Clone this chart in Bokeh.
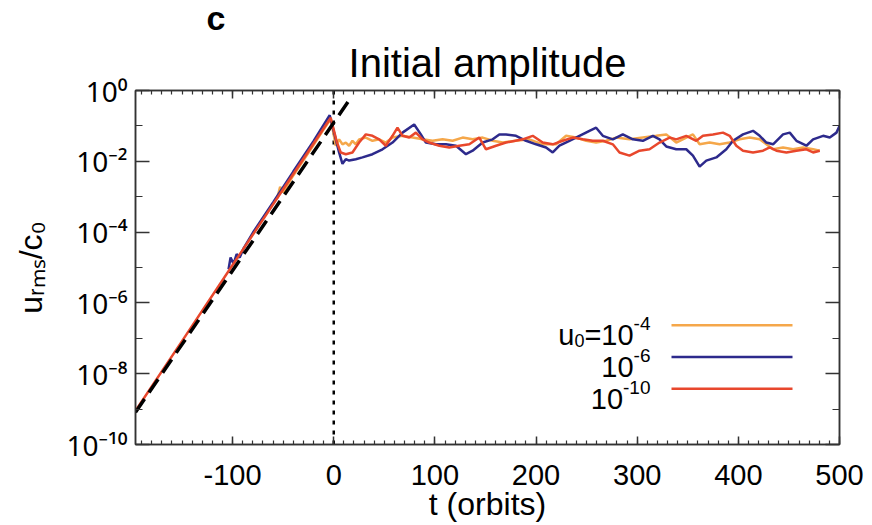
from bokeh.plotting import figure
from bokeh.models import FixedTicker, LinearAxis, LogAxis, Label, Range1d, Title
from bokeh.embed import file_html
from bokeh.resources import INLINE

# ---------------- data (t in orbits, log10 of u_rms/c0) ----------------
t_orange = [-56, -53, -50, -46, -40, -30, -20, -10, -3,
            2, 5.3, 8.6, 11.9, 15.2, 18.5, 21.8, 25.1, 31.7, 38.3, 44.9, 51.5, 58.1,
            68, 78, 87.8, 97.7, 107.6, 117.5, 127.4, 137.3, 147.2, 157.1, 167, 180.2,
            193.4, 206.6, 219.8, 229.7, 239.6, 249.5, 259.4, 269.3, 279.2, 292.4, 305.6,
            318.8, 328.7, 338.6, 348.5, 355.1, 361.7, 371.6, 381.5, 391.4, 401.3, 411.2,
            421.1, 427.7, 434.3, 444.2, 454.1, 464, 473.9, 480.5]
log_orange = [-3.05, -2.72, -2.88, -2.68, -2.40, -1.97, -1.54, -1.10, -0.80,
              -1.56, -1.38, -1.52, -1.47, -1.56, -1.42, -1.52, -1.38, -1.33, -1.42, -1.38, -1.47, -1.33,
              -1.28, -1.33, -1.38, -1.42, -1.38, -1.42, -1.33, -1.38, -1.33, -1.42, -1.47, -1.42,
              -1.38, -1.52, -1.52, -1.28, -1.33, -1.42, -1.47, -1.42, -1.33, -1.38, -1.33,
              -1.28, -1.24, -1.47, -1.33, -1.24, -1.52, -1.47, -1.52, -1.47, -1.38, -1.33,
              -1.38, -1.52, -1.66, -1.61, -1.66, -1.61, -1.66, -1.70]

t_blue = [-104, -102, -99, -96, -93, -89, -80, -60, -40, -20, -4,
          2, 5.3, 8.6, 11.9, 15.2, 21.8, 28.4, 38.3, 48.2, 58.1, 68, 79.5, 86.1, 91.1,
          101, 110.9, 120.8, 130.7, 137.3, 147.2, 157.1, 163.7, 170.3, 180.2, 190.1, 200,
          209.9, 216.5, 223.1, 233, 242.9, 252.8, 259.4, 266, 275.9, 285.8, 295.7, 305.6,
          315.5, 322.1, 328.7, 338.6, 348.5, 355.1, 361.7, 368.3, 378.2, 388.1, 394.7,
          404.6, 414.5, 421.1, 427.7, 434.3, 444.2, 450.8, 457.4, 467.3, 473.9, 483.8,
          490.4, 497, 500]
log_blue = [-5.05, -4.72, -4.90, -4.62, -4.72, -4.45, -4.02, -3.16, -2.29, -1.43, -0.70,
            -1.38, -1.75, -2.07, -1.94, -1.98, -1.94, -1.89, -1.80, -1.66, -1.47, -1.19, -0.96, -1.24, -1.47,
            -1.52, -1.52, -1.56, -1.80, -1.70, -1.47, -1.38, -1.24, -1.24, -1.28, -1.42, -1.52,
            -1.61, -1.75, -1.56, -1.42, -1.28, -1.14, -1.05, -1.28, -1.38, -1.24, -1.38, -1.42,
            -1.28, -1.38, -1.58, -1.66, -1.66, -1.84, -2.15, -1.98, -1.89, -1.66, -1.42,
            -1.24, -1.14, -1.28, -1.47, -1.52, -1.24, -1.19, -1.42, -1.56, -1.38, -1.28,
            -1.33, -1.19, -1.00]

t_red = [-196, -150, -100, -50, -3,
         3, 6.9, 11.9, 18.5, 25.1, 31.7, 38.3, 44.9, 51.5, 58.1, 63, 68, 74.6, 81.2, 87.8,
         94.4, 104.3, 114.2, 124.1, 134, 143.9, 150.5, 160.4, 170.3, 186.8, 196.7, 206.6,
         216.5, 226.4, 236.3, 246.2, 256.1, 266, 275.9, 282.5, 292.4, 302.3, 312.2, 322.1,
         332, 338.6, 348.5, 358.4, 365, 374.9, 384.8, 391.4, 398, 404.6, 414.5, 424.4,
         431, 437.6, 447.5, 457.4, 467.3, 473.9, 480.5]
log_red = [-9.05, -7.08, -4.93, -2.79, -0.77,
           -1.45, -1.75, -1.80, -1.75, -1.47, -1.24, -1.28, -1.38, -1.56, -1.28, -1.05, -1.28, -1.33, -1.19, -1.38,
           -1.47, -1.56, -1.61, -1.56, -1.52, -1.33, -1.66, -1.56, -1.47, -1.38, -1.28, -1.47,
           -1.52, -1.42, -1.33, -1.38, -1.42, -1.42, -1.52, -1.75, -1.84, -1.70, -1.66, -1.47,
           -1.33, -1.38, -1.28, -1.42, -1.28, -1.24, -1.19, -1.28, -1.56, -1.70, -1.75, -1.70,
           -1.61, -1.70, -1.75, -1.70, -1.66, -1.75, -1.70]

t_fit = [-196, 17]
log_fit = [-9.09, -0.20]

t_onset = 0  # saturation time marker

x_ticks = [-100, 0, 100, 200, 300, 400, 500]
x_tick_labels = ["-100", "0", "100", "200", "300", "400", "500"]
y_tick_exps = [0, -2, -4, -6, -8, -10]
y_tick_labels = ["10⁰", "10⁻²", "10⁻⁴", "10⁻⁶", "10⁻⁸", "10⁻¹⁰"]
y_minor_exps = [-1, -3, -5, -7, -9]
legend_exps = ["-4", "-6", "-10"]

TITLE = "Initial amplitude"
PANEL = "c"
X_LABEL = "t (orbits)"
Y_LABEL = "uᵣₘₛ/c₀"

COL_ORANGE = "#F5A74A"
COL_BLUE = "#2D2A8C"
COL_RED = "#E8472C"
FONT = "Liberation Sans"
SUP_FONT = "Noto Sans"

# ---------------- layout ----------------
W, H = 872, 525
L, R, T, B = 135, 839, 88, 444
X0, X1 = -196, 500
YE0, YE1 = -10, 0

p = figure(width=W, height=H, x_range=Range1d(X0, X1),
           y_range=Range1d(10 ** YE0, 10 ** YE1), y_axis_type="log",
           output_backend="svg", toolbar_location=None, title=None,
           min_border_left=L, min_border_right=W - R,
           min_border_top=T, min_border_bottom=H - B)
p.grid.visible = False
p.outline_line_color = "#333333"
p.outline_line_width = 1.5
p.background_fill_color = "white"
p.border_fill_color = "white"

xt = FixedTicker(ticks=x_ticks, minor_ticks=list(range(-190, 501, 10)))
yt = FixedTicker(ticks=[10.0 ** e for e in y_tick_exps],
                 minor_ticks=[10.0 ** e for e in y_minor_exps])


def style_axis(ax, tin, minin):
    ax.axis_line_color = "#333333"
    ax.axis_line_width = 1.5
    ax.major_tick_line_color = "#333333"
    ax.minor_tick_line_color = "#333333"
    ax.major_tick_line_width = 1.5
    ax.minor_tick_line_width = 1.2
    ax.major_tick_in = tin
    ax.major_tick_out = 0
    ax.minor_tick_in = minin
    ax.minor_tick_out = 0
    ax.major_label_text_font = FONT
    ax.major_label_text_color = "black"
    ax.axis_label_text_font = FONT
    ax.axis_label_text_font_style = "normal"
    ax.axis_label_text_color = "black"


def hide_labels(ax):
    ax.major_label_text_color = None
    ax.major_label_text_font_size = "0px"
    ax.major_label_standoff = 0


# bottom axis
xa = p.xaxis[0]
xa.ticker = xt
style_axis(xa, 8, 4)
xa.major_label_overrides = {v: s for v, s in zip(x_ticks, x_tick_labels)}
xa.major_label_text_font_size = "29px"
xa.major_label_standoff = 20
xa.axis_label = X_LABEL
xa.axis_label_text_font_size = "32px"
xa.axis_label_standoff = -2

# left axis
ya = p.yaxis[0]
ya.ticker = yt
style_axis(ya, 14, 7)
ya.major_label_overrides = {10.0 ** e: s for e, s in zip(y_tick_exps, y_tick_labels)}
ya.major_label_text_font = SUP_FONT
ya.major_label_text_font_size = "28px"
ya.major_label_standoff = 8
ya.axis_label = Y_LABEL
ya.axis_label_text_font_size = "32px"
ya.axis_label_standoff = 14

top = LinearAxis(ticker=xt)
style_axis(top, 8, 4)
hide_labels(top)
p.add_layout(top, "above")
right = LogAxis(ticker=yt)
style_axis(right, 14, 7)
hide_labels(right)
p.add_layout(right, "right")

p.add_layout(Title(text=TITLE, align="center", text_font=FONT,
                   text_font_size="40px", text_font_style="normal",
                   text_color="black", standoff=12), "above")
p.add_layout(Title(text=PANEL, align="left", offset=71, text_font=FONT,
                   text_font_size="34px", text_font_style="bold",
                   text_color="black", standoff=-8), "above")

# ---------------- marks ----------------
p.segment(x0=[t_onset], y0=[10 ** YE0], x1=[t_onset], y1=[10 ** YE1],
          line_color="black", line_width=2.5, line_dash="4 6")

p.line(t_orange, [10 ** v for v in log_orange], line_color=COL_ORANGE, line_width=2.5)
p.line(t_blue, [10 ** v for v in log_blue], line_color=COL_BLUE, line_width=2.5)
p.line(t_red, [10 ** v for v in log_red], line_color=COL_RED, line_width=2.5)
p.line(t_fit, [10 ** v for v in log_fit], line_color="black", line_width=3.5,
       line_dash="16 8")


# ---------------- legend (inside the frame) ----------------
def px2x(px):
    return X0 + (px - L) * (X1 - X0) / (R - L)


def px2y(py):
    return 10 ** (YE1 - (py - T) * (YE1 - YE0) / (B - T))


WID = {'-': 0.333, '=': 0.584}


def tw(s, size):
    return size * sum(WID.get(ch, 0.556) for ch in s)


def lab(text, px, py, size, align="left"):
    p.add_layout(Label(x=px - L, y=B - py, x_units="screen", y_units="screen",
                       text=text, text_font=FONT,
                       text_font_size=f"{size}px", text_align=align,
                       text_baseline="alphabetic", text_color="black"))


rows = [(legend_exps[0], 324, 334, COL_ORANGE),
        (legend_exps[1], 356, 366, COL_BLUE),
        (legend_exps[2], 388, 398, COL_RED)]
for i, (es, ly, bl, col) in enumerate(rows):
    p.segment(x0=[px2x(671)], y0=[px2y(ly)], x1=[px2x(792)], y1=[px2y(ly)],
              line_color=col, line_width=2.5)
    anchor = 650 - tw(es, 19)
    lab(es, anchor, bl - 11, 19, align="left")
    if i == 0:
        lab("=10", anchor, bl, 29, align="right")
        a2 = anchor - tw("=10", 29)
        lab("0", a2, bl + 6, 18, align="right")
        lab("u", a2 - tw("0", 18), bl, 29, align="right")
    else:
        lab("10", anchor, bl, 29, align="right")

open("out.html", "w").write(file_html(p, INLINE))
